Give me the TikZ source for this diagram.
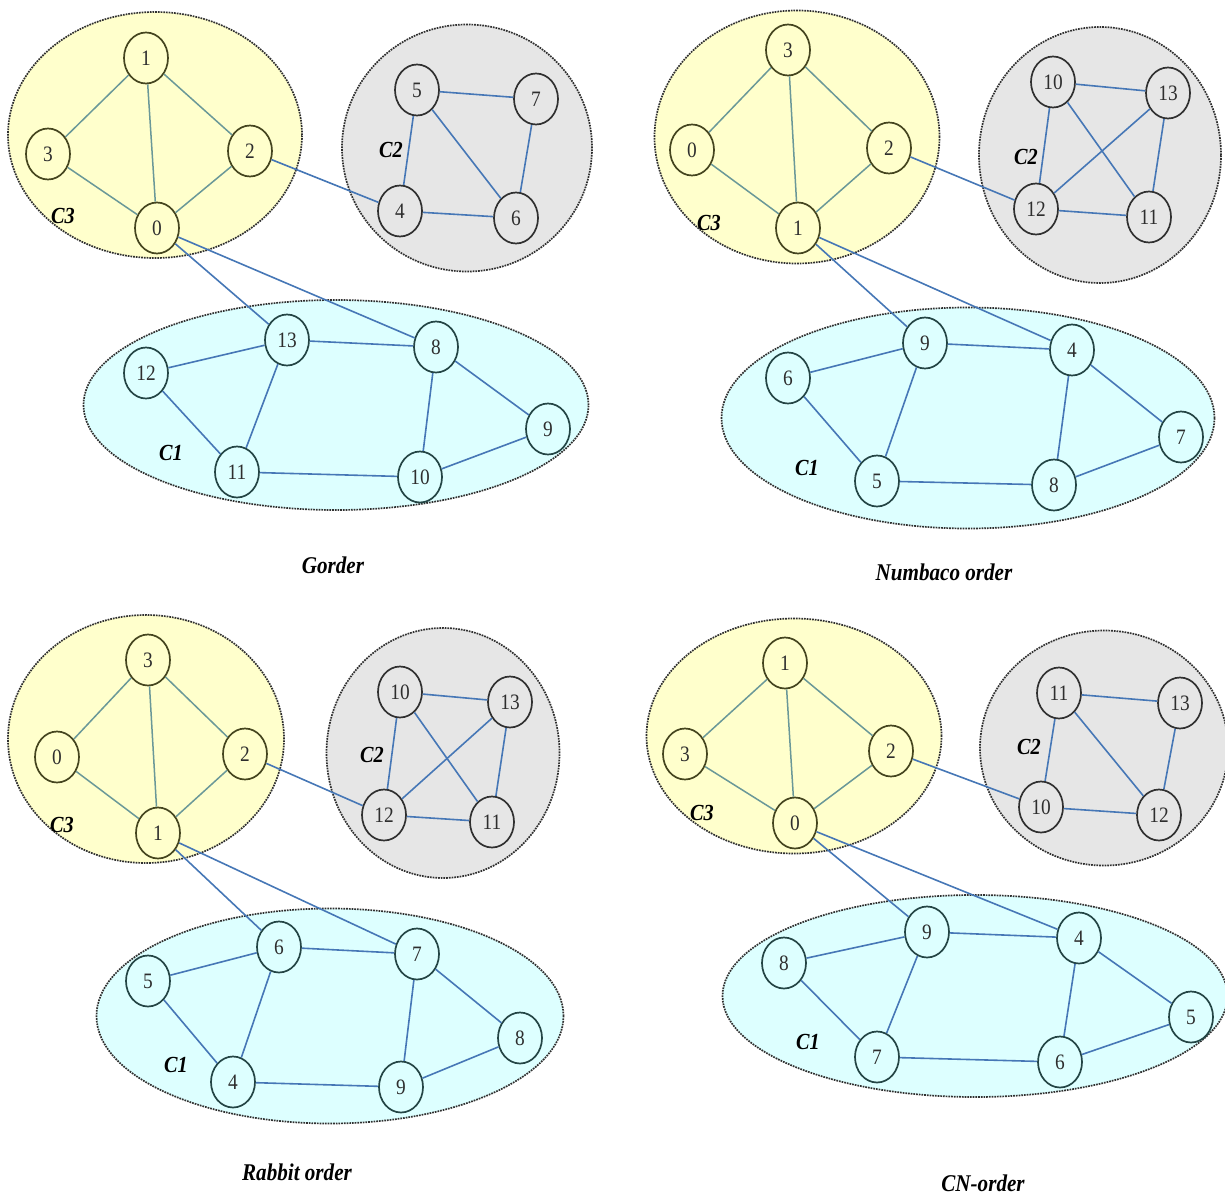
\documentclass[tikz,border=0pt]{standalone}
\usepackage{fontspec}
\setmainfont[FakeStretch=0.88]{Liberation Serif}
\usetikzlibrary{shapes.geometric}
\definecolor{yfill}{HTML}{FFFFCC}
\definecolor{gfill}{HTML}{E6E6E6}
\definecolor{cfill}{HTML}{DDFFFF}
\definecolor{yedge}{HTML}{6A9898}
\definecolor{bedge}{HTML}{4677B6}
\definecolor{ydraw}{HTML}{45451F}
\definecolor{gdraw}{HTML}{303030}
\definecolor{cdraw}{HTML}{244545}
\definecolor{txt}{HTML}{2E2E2E}
\begin{document}
\begin{tikzpicture}[x=1pt,y=-1pt,
  clus/.style={ellipse, draw=gdraw, line width=1.7pt, densely dotted, inner sep=0pt},
  vx/.style={ellipse, line width=1.7pt, inner sep=0pt, minimum width=44pt, minimum height=51pt,
     text=txt, font=\fontsize{22}{22}\selectfont},
  yv/.style={vx, draw=ydraw},
  gv/.style={vx, draw=gdraw},
  cv/.style={vx, draw=cdraw},
  clab/.style={text=black, font=\fontsize{23}{23}\selectfont\bfseries\itshape},
  ttl/.style={text=black, font=\fontsize{24}{24}\selectfont\bfseries\itshape},
  ye/.style={draw=yedge, line width=1.5pt},
  be/.style={draw=bedge, line width=1.6pt}
]
\useasboundingbox (0,0) rectangle (1225,1201);

% ================= Panel 1: Gorder =================
\node[clus, fill=yfill, minimum width=294pt, minimum height=246pt] (a-c3) at (155,135) {};
\node[clus, fill=gfill, minimum width=250pt, minimum height=247pt] (a-c2) at (467,148) {};
\node[clus, fill=cfill, minimum width=505pt, minimum height=210pt] (a-c1) at (336,405) {};
\node[clab] (a-l3) at (63,216) {C3};
\node[clab] (a-l2) at (391,150) {C2};
\node[clab] (a-l1) at (171,453) {C1};
\node[yv] (a1) at (146,58) {1};
\node[yv] (a3) at (48,154) {3};
\node[yv] (a2) at (250,151) {2};
\node[yv] (a0) at (157,228) {0};
\node[gv] (a5) at (417,90) {5};
\node[gv] (a7) at (536,99) {7};
\node[gv] (a4) at (400,211) {4};
\node[gv] (a6) at (516,218) {6};
\node[cv] (a12) at (146,373) {12};
\node[cv] (a13) at (287,340) {13};
\node[cv] (a8) at (436,347) {8};
\node[cv] (a9) at (548,429) {9};
\node[cv] (a11) at (237,472) {11};
\node[cv] (a10) at (420,477) {10};
\node[ttl] (a-t) at (333,565) {Gorder};
\draw[ye] (a1)--(a3) (a1)--(a0) (a1)--(a2) (a3)--(a0) (a2)--(a0);
\draw[be] (a2)--(a4) (a0)--(a13) (a0)--(a8);
\draw[be] (a5)--(a7) (a5)--(a4) (a5)--(a6) (a7)--(a6) (a4)--(a6);
\draw[be] (a12)--(a13) (a13)--(a8) (a13)--(a11) (a12)--(a11) (a8)--(a9) (a8)--(a10) (a11)--(a10) (a10)--(a9);

% ================= Panel 2: Numbaco order =================
\node[clus, fill=yfill, minimum width=285pt, minimum height=253pt] (b-c3) at (797,137) {};
\node[clus, fill=gfill, minimum width=242pt, minimum height=256pt] (b-c2) at (1100,155) {};
\node[clus, fill=cfill, minimum width=493pt, minimum height=221pt] (b-c1) at (968,418) {};
\node[clab] (b-l3) at (709,223) {C3};
\node[clab] (b-l2) at (1026,157) {C2};
\node[clab] (b-l1) at (807,468) {C1};
\node[yv] (b3) at (788,50) {3};
\node[yv] (b0) at (692,150) {0};
\node[yv] (b2) at (889,148) {2};
\node[yv] (b1) at (798,228) {1};
\node[gv] (b10) at (1053,82) {10};
\node[gv] (b13) at (1168,93) {13};
\node[gv] (b12) at (1036,209) {12};
\node[gv] (b11) at (1149,217) {11};
\node[cv] (b9) at (925,343) {9};
\node[cv] (b4) at (1072,350) {4};
\node[cv] (b6) at (788,378) {6};
\node[cv] (b7) at (1181,437) {7};
\node[cv] (b5) at (877,481) {5};
\node[cv] (b8) at (1054,485) {8};
\node[ttl] (b-t) at (944,572) {Numbaco order};
\draw[ye] (b3)--(b0) (b3)--(b1) (b3)--(b2) (b0)--(b1) (b2)--(b1);
\draw[be] (b2)--(b12) (b1)--(b9) (b1)--(b4);
\draw[be] (b10)--(b13) (b10)--(b12) (b10)--(b11) (b13)--(b12) (b13)--(b11) (b12)--(b11);
\draw[be] (b6)--(b9) (b9)--(b4) (b9)--(b5) (b6)--(b5) (b4)--(b7) (b4)--(b8) (b5)--(b8) (b8)--(b7);

% ================= Panel 3: Rabbit order =================
\node[clus, fill=yfill, minimum width=276pt, minimum height=248pt] (c-c3) at (146,739) {};
\node[clus, fill=gfill, minimum width=233pt, minimum height=250pt] (c-c2) at (443,753) {};
\node[clus, fill=cfill, minimum width=467pt, minimum height=215pt] (c-c1) at (330,1016) {};
\node[clab] (c-l3) at (62,825) {C3};
\node[clab] (c-l2) at (372,755) {C2};
\node[clab] (c-l1) at (176,1065) {C1};
\node[yv] (c3) at (148,660) {3};
\node[yv] (c0) at (57,757) {0};
\node[yv] (c2) at (245,754) {2};
\node[yv] (c1) at (158,833) {1};
\node[gv] (c10) at (400,692) {10};
\node[gv] (c13) at (510,702) {13};
\node[gv] (c12) at (384,815) {12};
\node[gv] (c11) at (492,822) {11};
\node[cv] (c6) at (279,947) {6};
\node[cv] (c7) at (417,954) {7};
\node[cv] (c5) at (148,981) {5};
\node[cv] (c8) at (520,1038) {8};
\node[cv] (c4) at (233,1082) {4};
\node[cv] (c9) at (401,1087) {9};
\node[ttl] (c-t) at (297,1172) {Rabbit order};
\draw[ye] (c3)--(c0) (c3)--(c1) (c3)--(c2) (c0)--(c1) (c2)--(c1);
\draw[be] (c2)--(c12) (c1)--(c6) (c1)--(c7);
\draw[be] (c10)--(c13) (c10)--(c12) (c10)--(c11) (c13)--(c12) (c13)--(c11) (c12)--(c11);
\draw[be] (c5)--(c6) (c6)--(c7) (c6)--(c4) (c5)--(c4) (c7)--(c9) (c7)--(c8) (c4)--(c9) (c9)--(c8);

% ================= Panel 4: CN-order =================
\node[clus, fill=yfill, minimum width=295pt, minimum height=235pt] (d-c3) at (794,736) {};
\node[clus, fill=gfill, minimum width=248pt, minimum height=235pt] (d-c2) at (1104,748) {};
\node[clus, fill=cfill, minimum width=505pt, minimum height=202pt] (d-c1) at (975,996) {};
\node[clab] (d-l3) at (702,813) {C3};
\node[clab] (d-l2) at (1029,747) {C2};
\node[clab] (d-l1) at (808,1042) {C1};
\node[yv] (d1) at (785,663) {1};
\node[yv] (d3) at (685,754) {3};
\node[yv] (d2) at (891,751) {2};
\node[yv] (d0) at (795,823) {0};
\node[gv] (d11) at (1059,693) {11};
\node[gv] (d13) at (1180,703) {13};
\node[gv] (d10) at (1041,807) {10};
\node[gv] (d12) at (1159,815) {12};
\node[cv] (d9) at (927,932) {9};
\node[cv] (d4) at (1079,938) {4};
\node[cv] (d8) at (784,963) {8};
\node[cv] (d5) at (1191,1017) {5};
\node[cv] (d7) at (877,1057) {7};
\node[cv] (d6) at (1060,1062) {6};
\node[ttl] (d-t) at (983,1183) {CN-order};
\draw[ye] (d1)--(d3) (d1)--(d0) (d1)--(d2) (d3)--(d0) (d2)--(d0);
\draw[be] (d2)--(d10) (d0)--(d9) (d0)--(d4);
\draw[be] (d11)--(d13) (d11)--(d10) (d11)--(d12) (d13)--(d12) (d10)--(d12);
\draw[be] (d8)--(d9) (d9)--(d4) (d9)--(d7) (d8)--(d7) (d4)--(d6) (d4)--(d5) (d7)--(d6) (d6)--(d5);
\end{tikzpicture}
\end{document}
